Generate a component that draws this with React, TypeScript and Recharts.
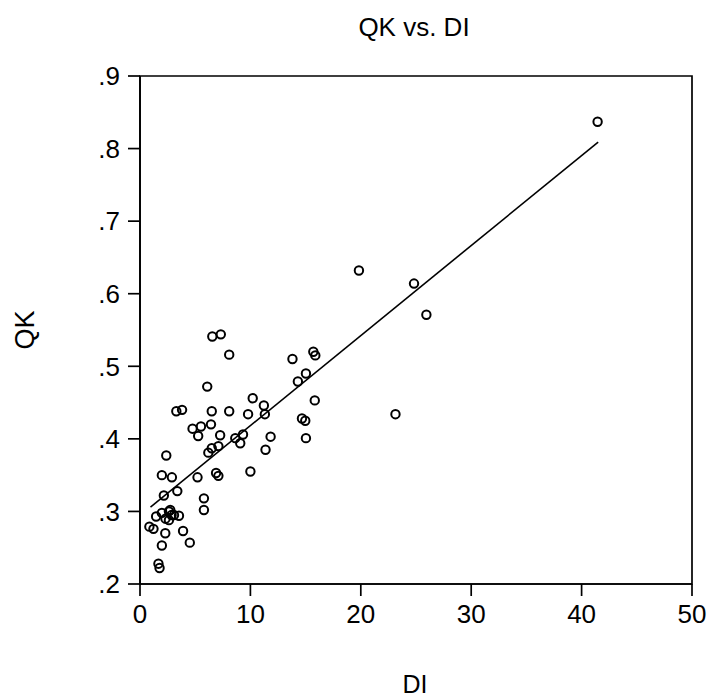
import React from "react";
import {
  ScatterChart,
  Scatter,
  XAxis,
  YAxis,
  ReferenceArea,
} from "recharts";

const diValues = [
  41.45, 19.83, 24.82, 25.94, 23.14, 6.55, 7.32, 8.08, 13.81, 15.7,
  15.88, 15.03, 14.3, 15.83, 6.09, 10.21, 11.22, 11.31, 9.79, 3.29,
  3.81, 6.5, 8.08, 14.67, 14.97, 15.03, 11.83, 11.37, 9.33, 8.63,
  9.08, 7.26, 6.43, 5.52, 4.76, 5.27, 7.1, 6.5, 6.19, 2.38,
  10.0, 6.89, 7.1, 1.98, 2.89, 5.21, 3.38, 2.16, 5.79, 5.79,
  1.46, 1.98, 2.31, 2.62, 2.74, 2.86, 2.62, 3.08, 3.53,
  0.85, 1.22, 2.29, 3.9, 4.51, 1.98, 1.67, 1.77,
];
const qkValues = [
  0.837, 0.632, 0.614, 0.571, 0.434, 0.541, 0.544, 0.516, 0.51, 0.52,
  0.515, 0.49, 0.479, 0.453, 0.472, 0.456, 0.446, 0.434, 0.434, 0.438,
  0.44, 0.438, 0.438, 0.428, 0.425, 0.401, 0.403, 0.385, 0.406, 0.401,
  0.394, 0.405, 0.42, 0.417, 0.414, 0.404, 0.39, 0.387, 0.381, 0.377,
  0.355, 0.353, 0.349, 0.35, 0.347, 0.347, 0.328, 0.322, 0.318, 0.302,
  0.293, 0.298, 0.29, 0.3, 0.302, 0.295, 0.288, 0.295, 0.294,
  0.279, 0.276, 0.27, 0.273, 0.257, 0.253, 0.228, 0.222,
];

// fitted regression line end points
const fitDi = [0.95, 41.5];
const fitQk = [0.306, 0.809];

const xTicks = [0, 10, 20, 30, 40, 50];
const yTicks = [0.2, 0.3, 0.4, 0.5, 0.6, 0.7, 0.8, 0.9];

const points = diValues.map((x, i) => ({ x, y: qkValues[i] }));
const fit = fitDi.map((x, i) => ({ x, y: fitQk[i] }));

const font = "'Liberation Sans', Arial, Helvetica, sans-serif";

const OpenCircle = (props: any) => (
  <circle
    cx={props.cx}
    cy={props.cy}
    r={4.2}
    fill="none"
    stroke="#000"
    strokeWidth={2}
  />
);

const label = (extra: React.CSSProperties): React.CSSProperties => ({
  position: "absolute",
  fontFamily: font,
  color: "#000",
  lineHeight: 1,
  whiteSpace: "nowrap",
  ...extra,
});

export default function App() {
  return (
    <div
      style={{
        position: "absolute",
        left: 0,
        top: 0,
        width: 710,
        height: 699,
        background: "#fff",
      }}
    >
      <ScatterChart
        width={710}
        height={699}
        margin={{ top: 76, right: 18, bottom: 0, left: 0 }}
      >
        <XAxis
          type="number"
          dataKey="x"
          domain={[0, 50]}
          ticks={xTicks}
          height={115}
          tickSize={12}
          tickMargin={9}
          stroke="#000"
          strokeWidth={1.7}
          tick={{ fill: "#000", fontSize: 26, fontFamily: font }}
          allowDataOverflow
        />
        <YAxis
          type="number"
          dataKey="y"
          domain={[0.2, 0.9]}
          ticks={yTicks}
          width={140}
          tickSize={12}
          tickMargin={8}
          stroke="#000"
          strokeWidth={1.7}
          tick={{ fill: "#000", fontSize: 26, fontFamily: font }}
          tickFormatter={(v: number) => v.toFixed(1).replace(/^0/, "")}
          allowDataOverflow
        />
        <ReferenceArea
          x1={0}
          x2={50}
          y1={0.2}
          y2={0.9}
          fill="none"
          stroke="#000"
          strokeWidth={1.7}
        />
        <Scatter
          data={fit}
          line={{ stroke: "#000", strokeWidth: 1.6 }}
          shape={() => <g />}
          isAnimationActive={false}
        />
        <Scatter data={points} shape={OpenCircle} isAnimationActive={false} />
      </ScatterChart>

      <div style={label({ left: 414, top: 27, fontSize: 26, transform: "translate(-50%, -50%)" })}>
        QK vs. DI
      </div>
      <div
        style={label({
          left: 25,
          top: 330,
          fontSize: 27,
          transform: "translate(-50%, -50%) rotate(-90deg)",
        })}
      >
        QK
      </div>
      <div style={label({ left: 415, top: 684, fontSize: 25, transform: "translate(-50%, -50%)" })}>
        DI
      </div>
    </div>
  );
}
